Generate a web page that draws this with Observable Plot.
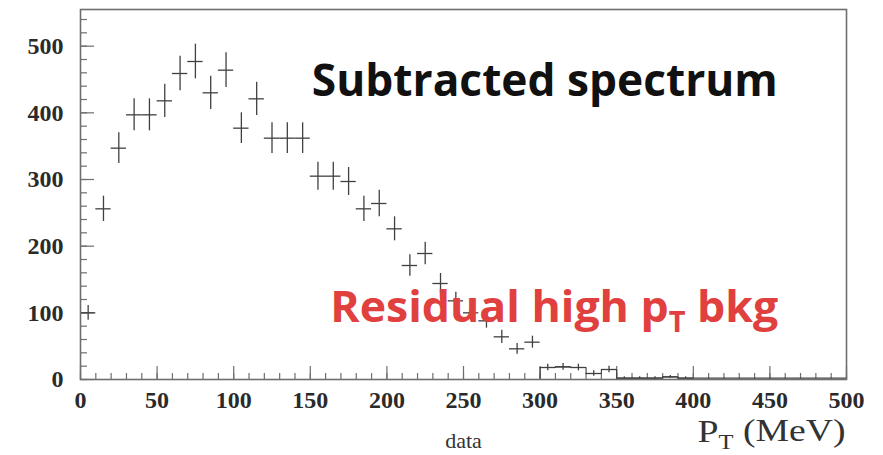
<!DOCTYPE html>
<html><head><meta charset="utf-8">
<script src="https://cdn.jsdelivr.net/npm/d3@7"></script>
<script src="https://cdn.jsdelivr.net/npm/@observablehq/plot@0.6"></script>
<style>body{margin:0;background:#fff;} #chart{width:883px;height:455px;}</style>
</head><body><div id="chart"></div>
<script>
// P_T bin centres (MeV), bin width 10
const binCenters = [5,15,25,35,45,55,65,75,85,95,105,115,125,135,145,155,165,175,185,195,
  205,215,225,235,245,255,265,275,285,295,305,315,325,335,345,355,365,375,385,395];
// subtracted counts per bin
const counts = [100,256,347,397,397,418,459,477,430,464,377,421,362,362,362,305,305,297,256,264,
  226,171,189,144,118,100,88,64,46,56,18,19,18,9,15,2,2,2,4,2];
// statistical errors
const errors = [11,19,23,24,24,25,26,26,25,26,23,25,23,23,23,21,21,21,19,20,
  18,16,17,15,13,12,11,10,8,9,5,5,5,4,5,2,2,2,2,2];
const binWidth = 10;
const bkgFrom = 300;           // residual high-pT region drawn as histogram outline
const xTickLabels = [0,50,100,150,200,250,300,350,400,450,500];
const yTickLabels = [0,100,200,300,400,500];
const title = "Subtracted spectrum";
const note = "Residual high p_T bkg";
const xLabel = "data";
const xTitle = "P_T (MeV)";

const W = 883, H = 455, mL = 80, mR = 37, mT = 9, mB = 76;
const plotW = W - mL - mR, plotH = H - mT - mB;

const table = binCenters.map((x, i) => ({x, v: counts[i], e: errors[i]}));
const bkg = table.filter(d => d.x > bkgFrom);
const step = [{x: bkgFrom, v: 0}, ...bkg.map(d => ({x: d.x - binWidth/2, v: d.v})),
  {x: bkg[bkg.length-1].x + binWidth/2, v: bkg[bkg.length-1].v}, {x: 500, v: 0}];

const xMinor = d3.range(0, 501, 10);
const yMinor = d3.range(0, 541, 20);
const axisCol = "#6e6e6e", ink = "#404040";
const serif = "'Liberation Serif', 'DejaVu Serif', serif";
const sans = "'Open Sans', 'Noto Sans', sans-serif";

const chart = Plot.plot({
  width: W, height: H,
  marginLeft: mL, marginRight: mR, marginTop: mT, marginBottom: mB,
  style: {background: "#fff", overflow: "visible"},
  x: {domain: [0, 500]},
  y: {domain: [0, 555]},
  marks: [
    Plot.ruleX(xMinor, {x: d => d, insetTop: plotH - 6, stroke: axisCol, strokeWidth: 1.2}),
    Plot.ruleX(xTickLabels, {x: d => d, insetTop: plotH - 13, stroke: axisCol, strokeWidth: 1.2}),
    Plot.ruleY(yMinor, {y: d => d, insetRight: plotW - 7, stroke: axisCol, strokeWidth: 1.2}),
    Plot.ruleY(yTickLabels, {y: d => d, insetRight: plotW - 14, stroke: axisCol, strokeWidth: 1.2}),
    Plot.line(step, {x: "x", y: "v", curve: "step-after", stroke: ink, strokeWidth: 1.1}),
    Plot.ruleY(table, {y: "v", x1: d => d.x - binWidth/2, x2: d => d.x + binWidth/2, stroke: ink, strokeWidth: 1.3}),
    Plot.ruleX(table, {x: "x", y1: d => d.v - d.e, y2: d => d.v + d.e, stroke: ink, strokeWidth: 1.3}),
    Plot.frame({stroke: axisCol, strokeWidth: 1.6}),
    Plot.axisX(xTickLabels, {tickSize: 0, tickPadding: 11, fontSize: 24, fontWeight: "bold",
      fontFamily: serif, fill: "#2a2a2a", label: null, tickFormat: d => String(d)}),
    Plot.axisY(yTickLabels, {tickSize: 0, tickPadding: 17, fontSize: 24, fontWeight: "bold",
      fontFamily: serif, fill: "#2a2a2a", label: null, tickFormat: d => String(d)}),
    Plot.text([title], {x: 151, y: 426, text: d => d, textAnchor: "start", lineAnchor: "bottom",
      fontSize: 44, fontWeight: "bold", fontFamily: sans, fill: "#111"}),
    Plot.text([note], {x: 163, y: 86, text: d => d, textAnchor: "start", lineAnchor: "bottom",
      fontSize: 43, fontWeight: "bold", fontFamily: sans, fill: "#e0403e"}),
    Plot.text([xLabel], {frameAnchor: "bottom", dy: 68, text: d => d, lineAnchor: "bottom",
      fontSize: 22, fontFamily: serif, fill: "#333"}),
    Plot.text([xTitle], {frameAnchor: "bottom-right", dy: 62, dx: -1, text: d => d, textAnchor: "end",
      lineAnchor: "bottom", fontSize: 32, fontFamily: serif, fill: "#333"})
  ]
});
document.getElementById("chart").appendChild(chart);

// render "_T" as a subscript, and match annotation widths
d3.select(chart).selectAll("text").each(function() {
  const t = this.textContent;
  const el = d3.select(this);
  if (t === title) el.attr("textLength", 466).attr("lengthAdjust", "spacingAndGlyphs");
  if (!t.includes("_")) return;
  const [a, rest] = t.split("_");
  const sub = rest.slice(0, 1), b = rest.slice(1);
  el.text(null);
  el.append("tspan").text(a);
  el.append("tspan").attr("font-size", "65%").attr("dy", "0.35em").text(sub);
  el.append("tspan").attr("dy", "-0.23em").text(b);
  if (t === note) el.attr("textLength", 448).attr("lengthAdjust", "spacingAndGlyphs");
  if (t === xTitle) el.attr("textLength", 148).attr("lengthAdjust", "spacingAndGlyphs");
});
</script>
</body></html>
